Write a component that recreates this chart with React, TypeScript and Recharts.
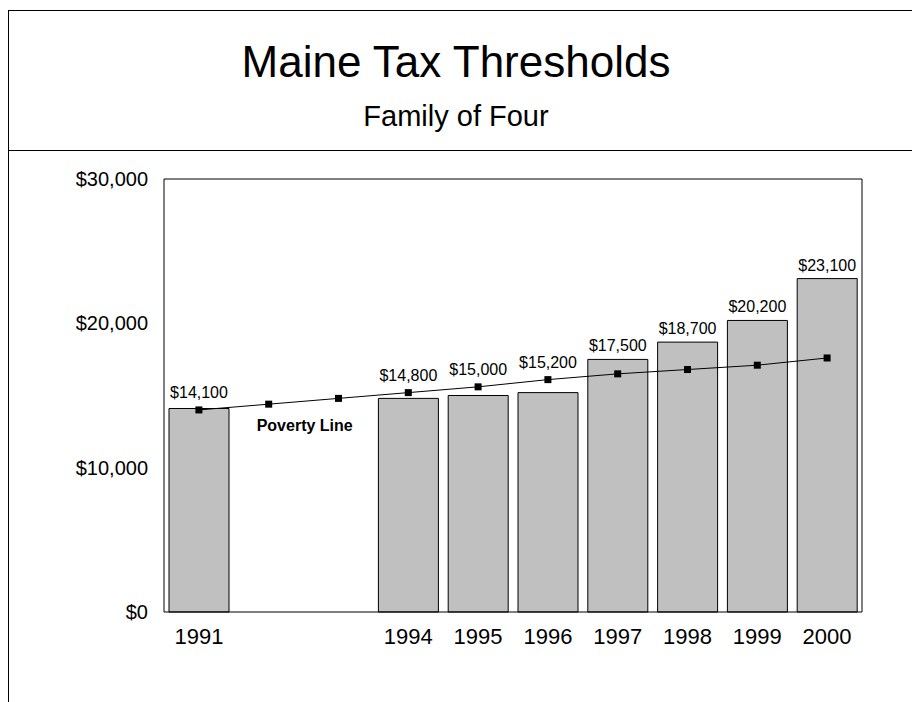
import React from 'react'
import { ComposedChart, Bar, Line, XAxis, YAxis, LabelList } from 'recharts'

const years = ['1991', '1992', '1993', '1994', '1995', '1996', '1997', '1998', '1999', '2000']
const tickLabels = ['1991', '', '', '1994', '1995', '1996', '1997', '1998', '1999', '2000']
const thresholds = [14100, null, null, 14800, 15000, 15200, 17500, 18700, 20200, 23100]
const povertyLine = [14000, 14400, 14800, 15200, 15600, 16100, 16500, 16800, 17100, 17600]
const yTicks = [0, 10000, 20000, 30000]

const FONT = '"Liberation Sans", Arial, sans-serif'

const data = years.map((year, i) => ({
  year,
  threshold: thresholds[i],
  poverty: povertyLine[i],
}))

const money = (v: number) => '$' + v.toLocaleString('en-US')

const SquareDot = (props: any) => {
  const { cx, cy } = props
  if (cx == null || cy == null) return null
  return <rect x={cx - 3.5} y={cy - 3.5} width={7} height={7} fill="#000" />
}

// bar value label, lifted above the poverty point when the line runs over the bar
const BarValue = (props: any) => {
  const { x, y, width, height, value } = props
  if (value == null) return null
  const i = thresholds.indexOf(value)
  const base = y + height
  const pointY = base - (povertyLine[i] * height) / value
  const ty = Math.min(y - 8, pointY - 12)
  return (
    <text x={x + width / 2} y={ty} textAnchor="middle" fontFamily={FONT} fontSize={16} fill="#000">
      {money(value)}
    </text>
  )
}

// "Poverty Line" note sits just below the 1992 point
const PovertyNote = (props: any) => {
  const { x, y, index } = props
  if (index !== 1) return null
  return (
    <text x={x + 36} y={y + 27} textAnchor="middle" fontFamily={FONT} fontSize={16} fontWeight="bold" fill="#000">
      Poverty Line
    </text>
  )
}

export default function App() {
  return (
    <div style={{ position: 'absolute', left: 0, top: 0, width: 912, height: 702, overflow: 'hidden', background: '#fff' }}>
      {/* header frame */}
      <div style={{ position: 'absolute', left: 8, top: 10, width: 920, height: 720, borderLeft: '1px solid #000', borderTop: '1px solid #000' }} />
      <div style={{ position: 'absolute', left: 8, top: 150, width: 920, borderTop: '1px solid #000' }} />

      <div style={{ position: 'absolute', left: 0, top: 40, width: 912, textAlign: 'center', fontFamily: FONT, fontSize: 44, lineHeight: '44px', color: '#000' }}>
        Maine Tax Thresholds
      </div>
      <div style={{ position: 'absolute', left: 0, top: 102, width: 912, textAlign: 'center', fontFamily: FONT, fontSize: 29, lineHeight: '29px', color: '#000' }}>
        Family of Four
      </div>

      <div style={{ position: 'absolute', left: 0, top: 0 }}>
        <ComposedChart
          width={912}
          height={702}
          data={data}
          margin={{ top: 178, right: 49, bottom: 50, left: 64 }}
          barCategoryGap={5}
        >
          <XAxis
            dataKey="year"
            height={40}
            tickLine={false}
            tickSize={0}
            tickMargin={16}
            axisLine={{ stroke: '#000' }}
            tick={{ fill: '#000', fontSize: 22, fontFamily: FONT }}
            tickFormatter={(_v: string, i: number) => tickLabels[i]}
            interval={0}
          />
          <XAxis xAxisId="top" dataKey="year" orientation="top" height={1} tick={false} tickLine={false} axisLine={{ stroke: '#000' }} />
          <YAxis
            width={100}
            domain={[0, 30000]}
            ticks={yTicks}
            tickLine={false}
            tickSize={0}
            tickMargin={16}
            axisLine={{ stroke: '#000' }}
            tick={{ fill: '#000', fontSize: 20, fontFamily: FONT }}
            tickFormatter={money}
          />
          <YAxis yAxisId="right" orientation="right" width={1} domain={[0, 30000]} tick={false} tickLine={false} axisLine={{ stroke: '#000' }} />
          <Bar dataKey="threshold" fill="#c0c0c0" stroke="#000" strokeWidth={1} isAnimationActive={false}>
            <LabelList dataKey="threshold" content={<BarValue />} />
          </Bar>
          <Line
            dataKey="poverty"
            type="linear"
            stroke="#000"
            strokeWidth={1}
            dot={<SquareDot />}
            activeDot={false}
            isAnimationActive={false}
          >
            <LabelList dataKey="poverty" content={<PovertyNote />} />
          </Line>
        </ComposedChart>
      </div>
    </div>
  )
}
